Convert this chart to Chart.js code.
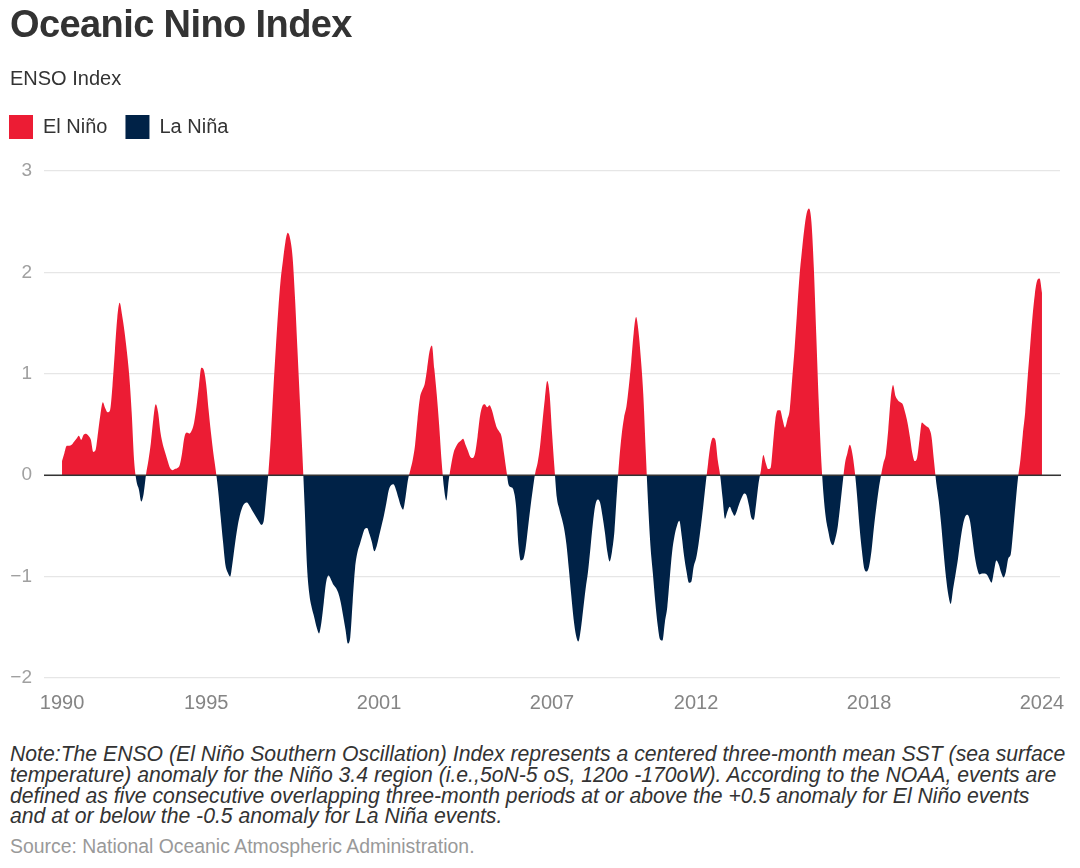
<!DOCTYPE html>
<html>
<head>
<meta charset="utf-8">
<script src="https://cdn.jsdelivr.net/npm/chart.js@4.4.1/dist/chart.umd.min.js"></script>
<style>
  html, body { margin: 0; padding: 0; background: #ffffff; }
  body { width: 1080px; height: 868px; position: relative; overflow: hidden; font-family: "Liberation Sans", Arial, sans-serif; }
  #wrap { position: absolute; left: 0; top: 0; width: 1080px; height: 725px; }
  #title { position: absolute; left: 10px; top: 5px; font-size: 38px; line-height: 38px; font-weight: bold; color: #333333; letter-spacing: -0.6px; white-space: nowrap; }
  #subtitle { position: absolute; left: 10px; top: 68px; font-size: 20px; line-height: 20px; color: #333333; white-space: nowrap; }
  #note { position: absolute; left: 10px; top: 744px; font-size: 21.2px; line-height: 20.8px; font-style: italic; color: #333333; white-space: nowrap; }
  #source { position: absolute; left: 10px; top: 836px; font-size: 19.4px; line-height: 20px; color: #999999; white-space: nowrap; }
</style>
</head>
<body>
<div id="wrap"><canvas id="chart" width="1080" height="725"></canvas></div>
<div id="title">Oceanic Nino Index</div>
<div id="subtitle">ENSO Index</div>
<div id="note">Note:The ENSO (El Niño Southern Oscillation) Index represents a centered three-month mean SST (sea surface<br>temperature) anomaly for the Niño 3.4 region (i.e.,5oN-5 oS, 120o -170oW). According to the NOAA, events are<br>defined as five consecutive overlapping three-month periods at or above the +0.5 anomaly for El Niño events<br>and at or below the -0.5 anomaly for La Niña events.</div>
<div id="source">Source: National Oceanic Atmospheric Administration.</div>
<script>
// ---- Data: Oceanic Nino Index, three-month running seasons (DJF ... NDJ) ----
const startYear = 1990;
const seasons = ['DJF','JFM','FMA','MAM','AMJ','MJJ','JJA','JAS','ASO','SON','OND','NDJ'];
const oni1990 = [0.14, 0.22, 0.29, 0.29, 0.30, 0.33, 0.36, 0.39, 0.35, 0.40, 0.41, 0.39];
const oni1991 = [0.35, 0.23, 0.25, 0.42, 0.60, 0.72, 0.66, 0.62, 0.64, 0.88, 1.22, 1.55];
const oni1992 = [1.70, 1.58, 1.42, 1.22, 0.98, 0.62, 0.15, -0.06, -0.14, -0.26, -0.18, 0.01];
const oni1993 = [0.15, 0.32, 0.55, 0.70, 0.62, 0.42, 0.30, 0.22, 0.14, 0.07, 0.05, 0.06];
const oni1994 = [0.07, 0.10, 0.22, 0.38, 0.42, 0.41, 0.44, 0.52, 0.68, 0.88, 1.06, 1.04];
const oni1995 = [0.90, 0.65, 0.42, 0.22, 0.05, -0.15, -0.40, -0.65, -0.88, -0.96, -1.00, -0.86];
const oni1996 = [-0.68, -0.52, -0.40, -0.32, -0.28, -0.27, -0.30, -0.34, -0.38, -0.42, -0.46, -0.49];
const oni1997 = [-0.45, -0.22, 0.05, 0.40, 0.85, 1.25, 1.62, 1.92, 2.12, 2.30, 2.39, 2.33];
const oni1998 = [2.15, 1.75, 1.25, 0.75, 0.25, -0.30, -0.90, -1.18, -1.31, -1.40, -1.50, -1.56];
const oni1999 = [-1.45, -1.25, -1.05, -0.99, -1.03, -1.08, -1.11, -1.16, -1.25, -1.38, -1.52, -1.66];
const oni2000 = [-1.60, -1.25, -0.92, -0.76, -0.68, -0.60, -0.53, -0.52, -0.58, -0.66, -0.75, -0.70];
const oni2001 = [-0.60, -0.50, -0.40, -0.28, -0.15, -0.10, -0.09, -0.14, -0.22, -0.30, -0.34, -0.22];
const oni2002 = [-0.05, 0.05, 0.15, 0.30, 0.55, 0.76, 0.84, 0.90, 1.05, 1.22, 1.28, 1.05];
const oni2003 = [0.80, 0.50, 0.15, -0.12, -0.25, -0.05, 0.10, 0.22, 0.28, 0.32, 0.34, 0.36];
const oni2004 = [0.30, 0.24, 0.18, 0.17, 0.22, 0.38, 0.58, 0.68, 0.70, 0.67, 0.69, 0.64];
const oni2005 = [0.55, 0.47, 0.43, 0.38, 0.22, 0.05, -0.10, -0.12, -0.15, -0.30, -0.68, -0.84];
const oni2006 = [-0.83, -0.72, -0.52, -0.32, -0.14, 0.02, 0.12, 0.28, 0.52, 0.75, 0.93, 0.80];
const oni2007 = [0.42, 0.08, -0.22, -0.33, -0.42, -0.52, -0.68, -0.92, -1.18, -1.42, -1.58, -1.64];
const oni2008 = [-1.52, -1.32, -1.12, -0.95, -0.72, -0.48, -0.30, -0.24, -0.27, -0.40, -0.56, -0.75];
const oni2009 = [-0.85, -0.75, -0.55, -0.18, 0.15, 0.40, 0.57, 0.68, 0.88, 1.12, 1.40, 1.56];
const oni2010 = [1.42, 1.15, 0.80, 0.25, -0.28, -0.70, -0.97, -1.25, -1.48, -1.62, -1.63, -1.45];
const oni2011 = [-1.30, -1.02, -0.76, -0.60, -0.50, -0.45, -0.60, -0.80, -0.95, -1.06, -1.05, -0.90];
const oni2012 = [-0.82, -0.68, -0.50, -0.30, -0.08, 0.12, 0.30, 0.37, 0.35, 0.15, 0.00, -0.22];
const oni2013 = [-0.43, -0.36, -0.31, -0.36, -0.40, -0.35, -0.28, -0.22, -0.18, -0.20, -0.30, -0.42];
const oni2014 = [-0.44, -0.28, -0.08, 0.05, 0.20, 0.12, 0.06, 0.07, 0.30, 0.55, 0.64, 0.64];
const oni2015 = [0.55, 0.47, 0.55, 0.65, 0.95, 1.25, 1.60, 1.95, 2.20, 2.42, 2.58, 2.63];
const oni2016 = [2.50, 2.05, 1.40, 0.75, 0.20, -0.18, -0.42, -0.55, -0.66, -0.69, -0.62, -0.50];
const oni2017 = [-0.30, -0.08, 0.12, 0.22, 0.30, 0.22, 0.05, -0.20, -0.50, -0.74, -0.92, -0.95];
const oni2018 = [-0.90, -0.75, -0.52, -0.32, -0.14, 0.00, 0.12, 0.21, 0.45, 0.75, 0.89, 0.78];
const oni2019 = [0.74, 0.72, 0.70, 0.62, 0.52, 0.38, 0.22, 0.14, 0.17, 0.35, 0.52, 0.50];
const oni2020 = [0.48, 0.46, 0.38, 0.15, -0.08, -0.25, -0.48, -0.75, -1.00, -1.18, -1.27, -1.12];
const oni2021 = [-0.98, -0.83, -0.65, -0.50, -0.41, -0.39, -0.45, -0.62, -0.80, -0.92, -0.98, -0.97];
const oni2022 = [-0.97, -0.98, -1.02, -1.06, -0.95, -0.84, -0.88, -0.96, -1.01, -0.95, -0.82, -0.78];
const oni2023 = [-0.55, -0.28, -0.03, 0.15, 0.40, 0.62, 0.95, 1.25, 1.55, 1.78, 1.92, 1.94];
const oni2024 = [1.80];

// Tick labels
const xTickYears = ['1990', '1995', '2001', '2007', '2012', '2018', '2024'];
const yTicks = [-2, -1, 0, 1, 2, 3];
const seriesNames = ['El Niño', 'La Niña'];
const seriesColors = ['#EC1C34', '#002247'];

const oniYears = [oni1990, oni1991, oni1992, oni1993, oni1994, oni1995, oni1996, oni1997, oni1998, oni1999,
  oni2000, oni2001, oni2002, oni2003, oni2004, oni2005, oni2006, oni2007, oni2008, oni2009,
  oni2010, oni2011, oni2012, oni2013, oni2014, oni2015, oni2016, oni2017, oni2018, oni2019,
  oni2020, oni2021, oni2022, oni2023, oni2024];

const oniValues = [].concat(...oniYears);
const periodLabels = [];
oniYears.forEach((arr, yi) => arr.forEach((_, mi) => periodLabels.push(seasons[mi] + ' ' + (startYear + yi))));
const points = oniValues.map((v, i) => ({ x: i, y: v }));
const tickIndex = xTickYears.map(y => (Number(y) - startYear) * 12);

const zeroLine = {
  id: 'zeroLine',
  afterDatasetsDraw(chart) {
    const { ctx, chartArea, scales } = chart;
    const y = scales.y.getPixelForValue(0);
    ctx.save();
    ctx.strokeStyle = '#333333';
    ctx.lineWidth = 1.6;
    ctx.beginPath();
    ctx.moveTo(chartArea.left, y);
    ctx.lineTo(chartArea.right + 1, y);
    ctx.stroke();
    ctx.restore();
  }
};

const legendSpacer = {
  id: 'legendSpacer',
  beforeInit(chart) {
    const origFit = chart.legend.fit;
    chart.legend.fit = function () {
      origFit.call(this);
      this.height += 22;
    };
  }
};

new Chart(document.getElementById('chart'), {
  type: 'line',
  data: {
    labels: periodLabels,
    datasets: [
      {
        label: seriesNames[0],
        data: points,
        backgroundColor: seriesColors[0],
        borderColor: 'rgba(0,0,0,0)',
        borderWidth: 0,
        pointRadius: 0,
        cubicInterpolationMode: 'monotone',
        fill: { target: 'origin', above: seriesColors[0], below: 'rgba(0,0,0,0)' }
      },
      {
        label: seriesNames[1],
        data: points,
        backgroundColor: seriesColors[1],
        borderColor: 'rgba(0,0,0,0)',
        borderWidth: 0,
        pointRadius: 0,
        cubicInterpolationMode: 'monotone',
        fill: { target: 'origin', above: 'rgba(0,0,0,0)', below: seriesColors[1] }
      }
    ]
  },
  options: {
    responsive: false,
    animation: false,
    devicePixelRatio: 1,
    layout: { padding: { top: 97, left: -9, right: 20, bottom: 0 } },
    plugins: {
      tooltip: { enabled: false },
      legend: {
        position: 'top',
        align: 'start',
        labels: {
          boxWidth: 24,
          boxHeight: 24,
          padding: 18,
          color: '#333333',
          font: { family: '"Liberation Sans", Arial, sans-serif', size: 20 }
        }
      }
    },
    scales: {
      x: {
        type: 'linear',
        min: -7.5,
        max: 415.5,
        grid: { display: false, drawTicks: false },
        border: { display: false },
        afterBuildTicks: (scale) => { scale.ticks = tickIndex.map(v => ({ value: v })); },
        afterFit: (scale) => { scale.height = 47; },
        ticks: {
          autoSkip: false,
          maxRotation: 0,
          padding: 13,
          color: '#858585',
          font: { family: '"Liberation Sans", Arial, sans-serif', size: 20 },
          callback: (value) => {
            const k = tickIndex.indexOf(value);
            return k >= 0 ? xTickYears[k] : '';
          }
        }
      },
      y: {
        min: yTicks[0],
        max: yTicks[yTicks.length - 1],
        afterBuildTicks: (scale) => { scale.ticks = yTicks.map(v => ({ value: v })); },
        afterFit: (scale) => { scale.width = 53; },
        grid: { color: '#e6e6e6', lineWidth: 1.3, drawTicks: false },
        border: { display: false },
        ticks: {
          padding: 12,
          color: '#a0a0a0',
          font: { family: '"Liberation Sans", Arial, sans-serif', size: 19 },
          callback: (value) => (value < 0 ? '\u2212' + Math.abs(value) : String(value))
        }
      }
    }
  },
  plugins: [zeroLine, legendSpacer]
});
</script>
</body>
</html>
